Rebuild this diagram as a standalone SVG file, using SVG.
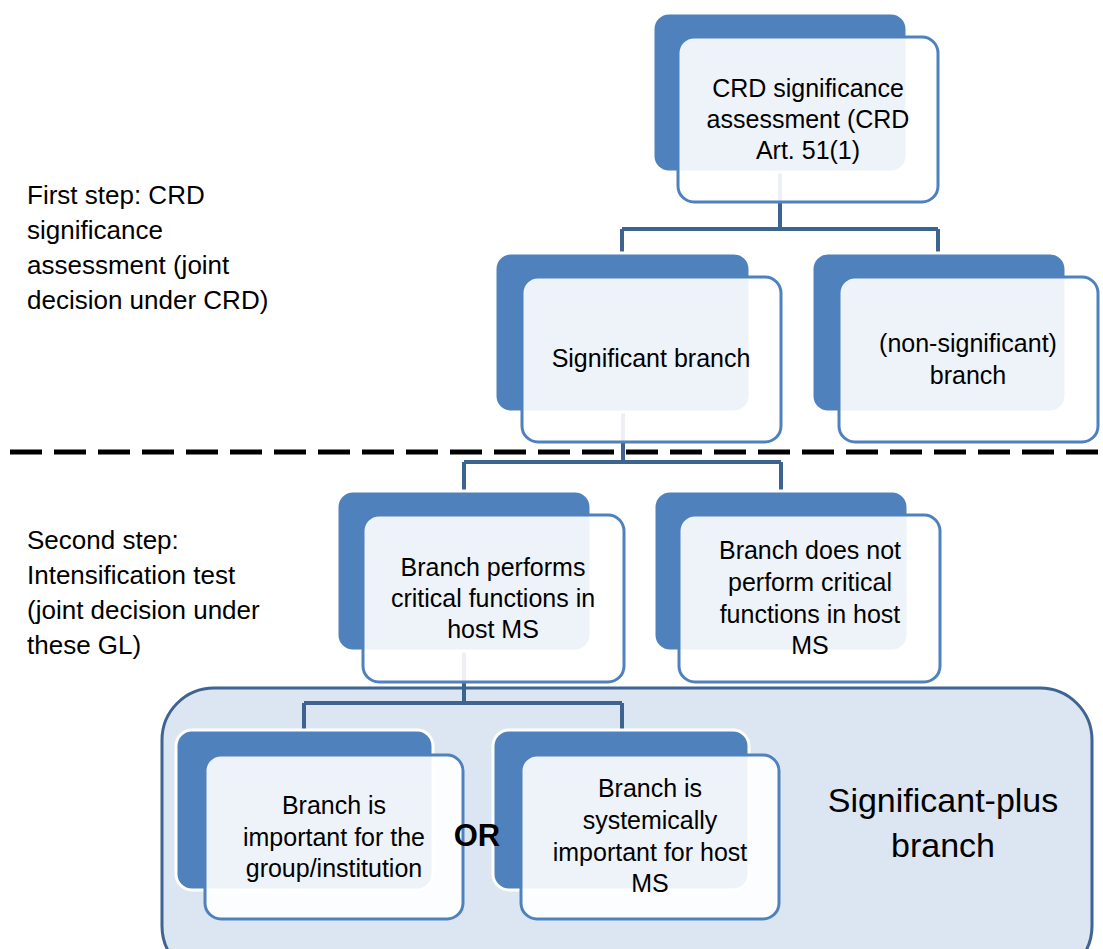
<svg xmlns="http://www.w3.org/2000/svg" width="1103" height="949" viewBox="0 0 1103 949">
<style>
.back{fill:#4F81BD;stroke:#FFFFFF;stroke-width:3}
.front{fill:#FFFFFF;fill-opacity:0.9;stroke:#4F81BD;stroke-width:3}
.conn{fill:none;stroke:#3D6390;stroke-width:4}
.t{font-family:"Liberation Sans",Arial,sans-serif;font-size:25px;fill:#000;text-anchor:middle}
.l{font-family:"Liberation Sans",Arial,sans-serif;font-size:26px;fill:#000}
</style>
<rect width="1103" height="949" fill="#FFFFFF"/>
<g id="container">
<rect x="162" y="688" width="930" height="290" rx="52" fill="#DCE6F2" stroke="#3F6392" stroke-width="3"/>
</g>
<g id="separator">
<line x1="10" y1="452" x2="1103" y2="452" stroke="#000" stroke-width="5" stroke-dasharray="32 12"/>
</g>
<g id="labels">
<text class="l" x="27" y="204">First step: CRD</text>
<text class="l" x="27" y="239">significance</text>
<text class="l" x="27" y="274">assessment (joint</text>
<text class="l" x="27" y="309">decision under CRD)</text>
<text class="l" x="27" y="549">Second step:</text>
<text class="l" x="27" y="584">Intensification test</text>
<text class="l" x="27" y="619">(joint decision under</text>
<text class="l" x="27" y="654">these GL)</text>
</g>
<g id="connectors">
<path class="conn" d="M780 172 V229 M622 229 H938 M622 229 V253 M938 229 V253"/>
<path class="conn" d="M623 412 V462 M464 462 H781 M464 462 V491 M781 462 V491"/>
<path class="conn" d="M464 651 V703 M304 703 H622 M304 703 V730 M622 703 V730"/>
</g>
<g id="n-crd">
<rect class="back" x="653" y="13" width="254" height="159" rx="16"/>
<rect class="front" x="678" y="37" width="260" height="165" rx="16"/>
<text class="t" x="808" y="97">CRD significance</text>
<text class="t" x="808" y="128">assessment (CRD</text>
<text class="t" x="808" y="159">Art. 51(1)</text>
</g>
<g id="n-significant">
<rect class="back" x="495" y="253" width="255" height="159" rx="16"/>
<rect class="front" x="522" y="277" width="259" height="165" rx="16"/>
<text class="t" x="651" y="367">Significant branch</text>
</g>
<g id="n-nonsignificant">
<rect class="back" x="812" y="253" width="254" height="159" rx="16"/>
<rect class="front" x="839" y="277" width="259" height="165" rx="16"/>
<text class="t" x="968" y="352">(non-significant)</text>
<text class="t" x="968" y="384">branch</text>
</g>
<g id="n-critical">
<rect class="back" x="337" y="491" width="254" height="160" rx="16"/>
<rect class="front" x="363" y="515" width="261" height="167" rx="16"/>
<text class="t" x="493" y="576">Branch performs</text>
<text class="t" x="493" y="607">critical functions in</text>
<text class="t" x="493" y="638">host MS</text>
</g>
<g id="n-noncritical">
<rect class="back" x="654" y="491" width="254" height="160" rx="16"/>
<rect class="front" x="679" y="515" width="261" height="167" rx="16"/>
<text class="t" x="810" y="559">Branch does not</text>
<text class="t" x="810" y="591">perform critical</text>
<text class="t" x="810" y="623">functions in host</text>
<text class="t" x="810" y="654">MS</text>
</g>
<g id="n-group">
<rect class="back" x="176" y="730" width="257" height="160" rx="16"/>
<rect class="front" x="205" y="755" width="258" height="164" rx="16"/>
<text class="t" x="334" y="814">Branch is</text>
<text class="t" x="334" y="846">important for the</text>
<text class="t" x="334" y="877">group/institution</text>
</g>
<g id="n-systemic">
<rect class="back" x="493" y="730" width="256" height="160" rx="16"/>
<rect class="front" x="521" y="755" width="258" height="164" rx="16"/>
<text class="t" x="650" y="797">Branch is</text>
<text class="t" x="650" y="829">systemically</text>
<text class="t" x="650" y="861">important for host</text>
<text class="t" x="650" y="892">MS</text>
</g>
<g id="or">
<text x="477" y="846" font-family="'Liberation Sans',Arial,sans-serif" font-size="31" font-weight="bold" text-anchor="middle">OR</text>
</g>
<g id="significant-plus">
<text x="943" y="812" font-family="'Liberation Sans',Arial,sans-serif" font-size="34" text-anchor="middle">Significant-plus</text>
<text x="943" y="857" font-family="'Liberation Sans',Arial,sans-serif" font-size="34" text-anchor="middle">branch</text>
</g>
</svg>
